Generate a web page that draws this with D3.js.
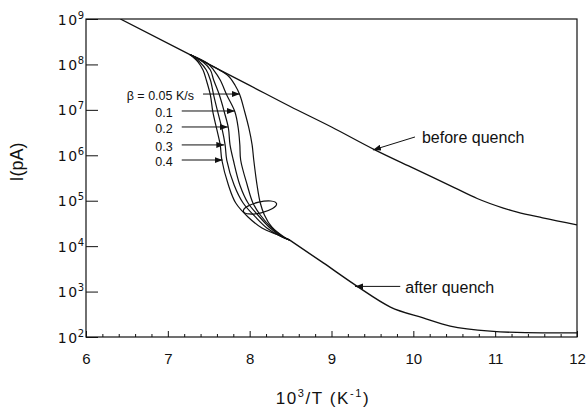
<!DOCTYPE html>
<html>
<head>
<meta charset="utf-8">
<script src="https://cdn.jsdelivr.net/npm/d3@7"></script>
<style>
  body { margin: 0; background: #fff; }
  svg { display: block; font-family: "Liberation Sans", Arial, Helvetica, sans-serif; }
</style>
</head>
<body>
<div id="chart"></div>
<script>
// values: x = 10^3/T (K^-1), I in pA

// straight branch measured before the quench
const beforeX = [6.42, 7.27, 8.0, 8.49, 9.0, 9.53, 10.0, 10.5, 10.78, 11.1, 11.27, 11.58, 12.0];
const beforeI = [1e9, 1.65e8, 3.45e7, 1.2e7, 4.2e6, 1.32e6, 5.2e5, 1.95e5, 1.12e5, 6.9e4, 5.6e4, 4.2e4, 2.95e4];

// common branch after the quench
const afterX = [8.49, 8.90, 9.31, 9.72, 10.12, 10.45, 10.94, 11.58, 12.0];
const afterI = [1.36e4, 4.27e3, 1.32e3, 457, 263, 174, 135, 123, 123];

// quench curves for each heating rate beta
const b005X = [7.27, 7.61, 7.74, 7.82, 7.88, 7.94, 7.99, 8.03, 8.05, 8.09, 8.13, 8.18, 8.27, 8.42, 8.49];
const b005I = [1.65e8, 7.93e7, 5.56e7, 3.52e7, 2.12e7, 8.98e6, 3.99e6, 1.69e6, 7.87e5, 2.22e5, 8.9e4, 4.85e4, 2.64e4, 1.59e4, 1.36e4];
const b01X = [7.27, 7.48, 7.56, 7.64, 7.72, 7.82, 7.86, 7.88, 7.89, 7.97, 8.04, 8.13, 8.27, 8.41, 8.49];
const b01I = [1.65e8, 1.07e8, 7.53e7, 4.54e7, 2.12e7, 8.98e6, 3.99e6, 1.69e6, 7.87e5, 2.22e5, 8.9e4, 4.85e4, 2.51e4, 1.59e4, 1.36e4];
const b02X = [7.27, 7.43, 7.52, 7.56, 7.63, 7.69, 7.74, 7.76, 7.80, 7.88, 7.98, 8.10, 8.25, 8.40, 8.49];
const b02I = [1.65e8, 1.13e8, 7.53e7, 4.54e7, 2.12e7, 8.98e6, 3.99e6, 1.69e6, 7.87e5, 2.22e5, 8.9e4, 4.85e4, 2.51e4, 1.59e4, 1.36e4];
const b03X = [7.27, 7.39, 7.47, 7.52, 7.56, 7.61, 7.66, 7.70, 7.72, 7.81, 7.92, 8.07, 8.21, 8.37, 8.49];
const b03I = [1.65e8, 1.13e8, 7.53e7, 4.54e7, 2.12e7, 8.98e6, 3.99e6, 1.69e6, 7.87e5, 2.22e5, 8.9e4, 4.39e4, 2.51e4, 1.67e4, 1.36e4];
const b04X = [7.27, 7.37, 7.43, 7.47, 7.52, 7.55, 7.60, 7.64, 7.66, 7.74, 7.83, 7.98, 8.15, 8.35, 8.49];
const b04I = [1.65e8, 1.13e8, 7.53e7, 4.54e7, 2.12e7, 8.98e6, 3.61e6, 1.69e6, 7.87e5, 2.22e5, 8.9e4, 4.39e4, 2.51e4, 1.76e4, 1.36e4];

// arrow labels for the beta curves
const betaLabels = ["β = 0.05 K/s", "0.1", "0.2", "0.3", "0.4"];
const betaTipX = [7.88, 7.82, 7.735, 7.69, 7.67];
const betaTipI = [2.23e7, 9.44e6, 4.2e6, 1.69e6, 7.87e5];
const betaTailX = [7.43, 7.17, 7.17, 7.17, 7.17];

// axis ticks
const xTicks = [6, 7, 8, 9, 10, 11, 12];
const xMinorTicks = [6.2, 6.4, 6.6, 6.8, 7.2, 7.4, 7.6, 7.8, 8.2, 8.4, 8.6, 8.8, 9.2, 9.4, 9.6, 9.8,
                     10.2, 10.4, 10.6, 10.8, 11.2, 11.4, 11.6, 11.8];
const yExponents = [2, 3, 4, 5, 6, 7, 8, 9];

const margin = {top: 19, right: 9, bottom: 71, left: 86};
const width = 586 - margin.left - margin.right;
const height = 408 - margin.top - margin.bottom;
const ink = "#111";

const svg = d3.select("#chart").append("svg")
  .attr("width", 586)
  .attr("height", 408);

const defs = svg.append("defs");
defs.append("clipPath").attr("id", "plot-clip")
  .append("rect").attr("width", width).attr("height", height);
defs.append("marker")
  .attr("id", "arrow")
  .attr("viewBox", "0 0 8 6")
  .attr("refX", 8).attr("refY", 3)
  .attr("markerWidth", 8).attr("markerHeight", 6)
  .attr("markerUnits", "userSpaceOnUse")
  .attr("orient", "auto")
  .append("path").attr("d", "M0,0L8,3L0,6Z").attr("fill", ink);

const g = svg.append("g")
  .attr("transform", `translate(${margin.left},${margin.top})`);

const x = d3.scaleLinear().domain([6, 12]).range([0, width]);
const y = d3.scaleLog().domain([1e2, 1e9]).range([height, 0]);

// x axis: ticks point inward
g.append("g")
  .attr("transform", `translate(0,${height})`)
  .call(d3.axisBottom(x).tickValues(xMinorTicks).tickSize(-3).tickFormat(""))
  .call(a => a.select(".domain").remove())
  .selectAll("line").attr("stroke", ink);

g.append("g")
  .attr("transform", `translate(0,${height})`)
  .call(d3.axisBottom(x).tickValues(xTicks).tickSize(-6).tickPadding(16).tickFormat(d3.format("d")))
  .call(a => a.select(".domain").remove())
  .call(a => a.selectAll("line").attr("stroke", ink))
  .selectAll("text")
  .style("font-family", "'Liberation Sans', Arial, sans-serif")
  .style("font-size", "15px")
  .style("fill", ink);

// y axis: decade ticks with 10^n labels
const yAxis = g.append("g")
  .call(d3.axisLeft(y).tickValues(yExponents.map(e => Math.pow(10, e))).tickSize(-12).tickFormat(""));
yAxis.select(".domain").remove();
yAxis.selectAll("line").attr("stroke", ink);
yAxis.selectAll(".tick text")
  .attr("x", -2)
  .attr("dy", null)
  .style("font-family", "'DejaVu Sans', sans-serif")
  .style("fill", ink)
  .each(function(d) {
    const t = d3.select(this);
    t.append("tspan").attr("dy", "5").style("font-size", "14px").style("letter-spacing", "1.5px").text("10");
    t.append("tspan").attr("dy", "-6").attr("dx", "-1").style("font-size", "10px").text(Math.round(Math.log10(d)));
  });

// frame
g.append("rect")
  .attr("width", width)
  .attr("height", height)
  .attr("fill", "none")
  .attr("stroke", ink)
  .attr("stroke-width", 1.2);

// axis titles
svg.append("text")
  .attr("transform", `translate(17,162) rotate(-90)`)
  .attr("text-anchor", "middle")
  .attr("dominant-baseline", "central")
  .style("font-size", "18px")
  .style("fill", ink)
  .text("I(pA)");

const xTitle = svg.append("text")
  .attr("x", 323)
  .attr("y", 404)
  .attr("text-anchor", "middle")
  .style("font-size", "17px")
  .style("letter-spacing", "1.6px")
  .style("fill", ink);
xTitle.append("tspan").text("10");
xTitle.append("tspan").attr("dy", -7).style("font-size", "11px").text("3");
xTitle.append("tspan").attr("dy", 7).text("/T (K");
xTitle.append("tspan").attr("dy", -7).style("font-size", "11px").text("-1");
xTitle.append("tspan").attr("dy", 7).text(")");

// curves
const line = d3.line()
  .x(d => x(d[0]))
  .y(d => y(d[1]))
  .curve(d3.curveMonotoneX);

const betaLine = d3.line()
  .x(d => x(d[0]))
  .y(d => y(d[1]))
  .curve(d3.curveCatmullRom.alpha(0.5));

const plot = g.append("g").attr("clip-path", "url(#plot-clip)");

plot.append("path")
  .datum(d3.zip(beforeX, beforeI))
  .attr("d", line)
  .attr("fill", "none")
  .attr("stroke", ink)
  .attr("stroke-width", 1.3);

plot.append("path")
  .datum(d3.zip(afterX, afterI))
  .attr("d", line)
  .attr("fill", "none")
  .attr("stroke", ink)
  .attr("stroke-width", 1.4);

const betaCurves = [
  d3.zip(b005X, b005I),
  d3.zip(b01X, b01I),
  d3.zip(b02X, b02I),
  d3.zip(b03X, b03I),
  d3.zip(b04X, b04I)
];

plot.selectAll(".beta")
  .data(betaCurves)
  .enter().append("path")
  .attr("class", "beta")
  .attr("d", betaLine)
  .attr("fill", "none")
  .attr("stroke", ink)
  .attr("stroke-width", 1.2);

// loop drawn round the bundle of curves
g.append("ellipse")
  .attr("transform", `translate(${x(8.126)},${y(7.1e4)}) rotate(-13)`)
  .attr("rx", 17)
  .attr("ry", 5.5)
  .attr("fill", "none")
  .attr("stroke", ink)
  .attr("stroke-width", 1.2);

// beta arrows and labels
betaLabels.forEach((label, i) => {
  const yy = y(betaTipI[i]);
  g.append("line")
    .attr("x1", x(betaTailX[i]))
    .attr("x2", x(betaTipX[i]))
    .attr("y1", yy)
    .attr("y2", yy)
    .attr("stroke", ink)
    .attr("stroke-width", 1)
    .attr("marker-end", "url(#arrow)");
  g.append("text")
    .attr("x", x(betaTailX[i]) - 9)
    .attr("y", yy + 2)
    .attr("text-anchor", "end")
    .attr("dominant-baseline", "central")
    .style("font-size", "12.5px")
    .style("fill", ink)
    .text(label);
});

// before / after quench annotations
const notes = [
  {text: "before quench", tail: [10.02, 2.53e6], tip: [9.507, 1.31e6], dx: 7},
  {text: "after quench", tail: [9.84, 1.3e3], tip: [9.287, 1.3e3], dx: 5}
];

notes.forEach(n => {
  g.append("line")
    .attr("x1", x(n.tail[0]))
    .attr("y1", y(n.tail[1]))
    .attr("x2", x(n.tip[0]))
    .attr("y2", y(n.tip[1]))
    .attr("stroke", ink)
    .attr("stroke-width", 1)
    .attr("marker-end", "url(#arrow)");
  g.append("text")
    .attr("x", x(n.tail[0]) + n.dx)
    .attr("y", y(n.tail[1]) + 1)
    .attr("dominant-baseline", "central")
    .style("font-size", "16px")
    .style("fill", ink)
    .text(n.text);
});
</script>
</body>
</html>
